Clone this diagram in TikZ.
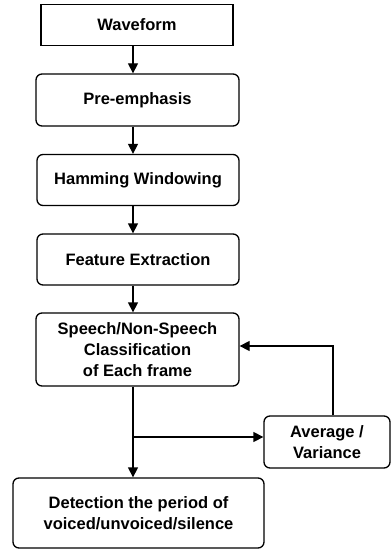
\documentclass[tikz,border=0pt]{standalone}
\usepackage{fontspec}
\setmainfont{Liberation Sans}
\usetikzlibrary{arrows.meta}
\begin{document}
\begin{tikzpicture}[x=1pt,y=-1pt,
  box/.style={draw, line width=1.3pt, rounded corners=6pt, align=center, inner sep=0pt, font=\bfseries\fontsize{16.5}{21}\selectfont},
  sqbox/.style={box, rounded corners=0pt},
  conn/.style={line width=1.3pt, -{Triangle[length=10pt,width=10pt]}}]
\useasboundingbox (0,0) rectangle (391,551);
\node[sqbox, minimum width=192pt, minimum height=41pt] (wave) at (137,25) {Waveform};
\node[box, minimum width=203pt, minimum height=52pt] (pre) at (137.5,100) {Pre-emphasis};
\node[box, minimum width=202pt, minimum height=51pt] (ham) at (138,180) {Hamming Windowing};
\node[box, minimum width=202pt, minimum height=51pt] (feat) at (138,259.5) {Feature Extraction};
\node[box, minimum width=203pt, minimum height=73pt] (sp) at (137.5,349.5) {Speech/Non-Speech\\Classification\\of Each frame};
\node[box, minimum width=126pt, minimum height=52pt] (avg) at (327,442) {Average /\\Variance};
\node[box, minimum width=251pt, minimum height=70pt] (det) at (138.5,513) {Detection the period of\\voiced/unvoiced/silence};
\coordinate (x1) at (133,437);
\draw[conn] (wave.south -| 133,0) -- (pre.north -| 133,0);
\draw[conn] (pre.south -| 133,0) -- (ham.north -| 133,0);
\draw[conn] (ham.south -| 133,0) -- (feat.north -| 133,0);
\draw[conn] (feat.south -| 133,0) -- (sp.north -| 133,0);
\draw[conn] (sp.south -| 133,0) -- (det.north -| 133,0);
\draw[conn] (x1) -- (avg.west |- x1);
\draw[conn] (avg.north -| 333,0) |- (sp.east |- 0,346);
\end{tikzpicture}
\end{document}
